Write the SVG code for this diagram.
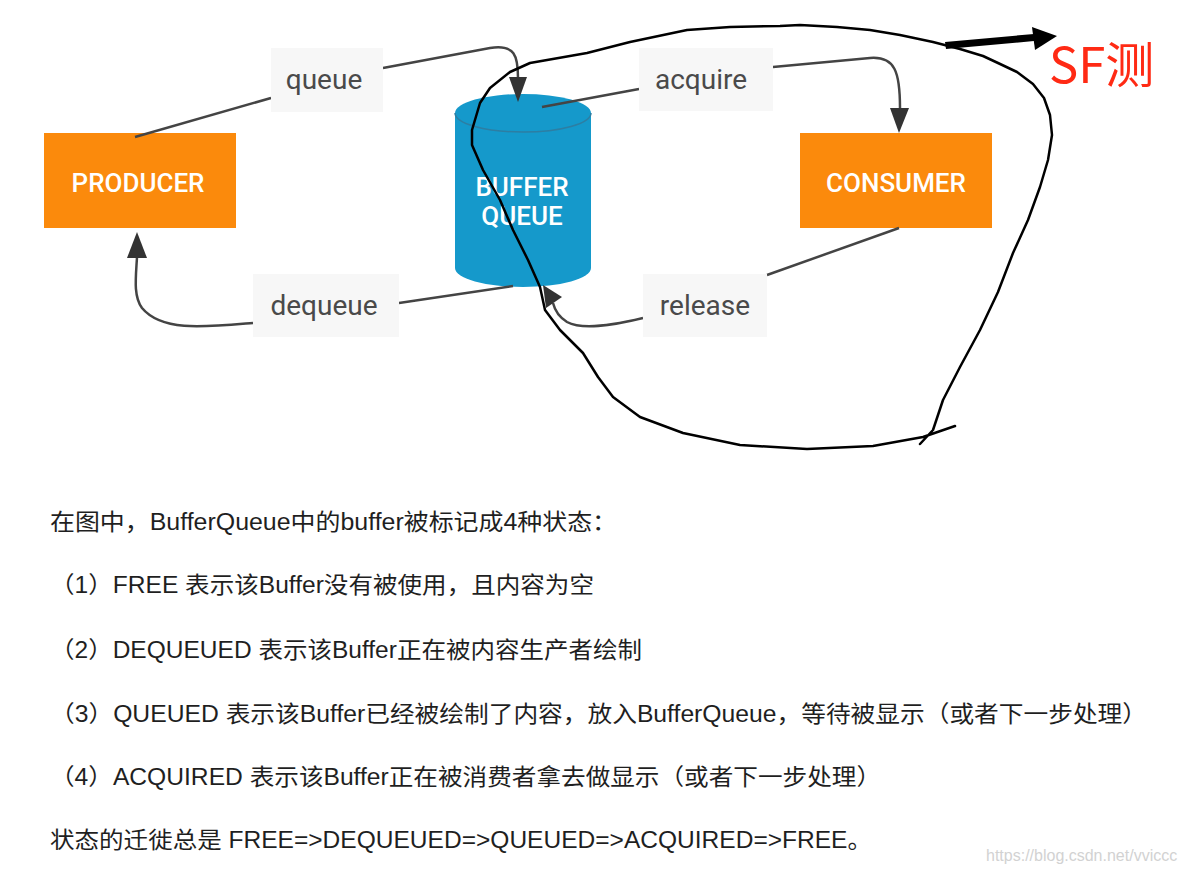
<svg xmlns="http://www.w3.org/2000/svg" width="1184" height="872" viewBox="0 0 1184 872">
<style>
.box{fill:#fb8a0c}
.boxt{font-family:Roboto,"Liberation Sans",sans-serif;font-weight:500;font-size:26px;fill:#fff;text-anchor:middle}
.lbl{fill:#f7f7f7}
.lblt{font-family:Roboto,"Liberation Sans",sans-serif;font-size:28px;fill:#4a4a4a;text-anchor:middle}
.con{fill:none;stroke:#444;stroke-width:2.5}
.head{fill:#333}
.txt{font-family:"Liberation Sans","Noto Sans CJK SC",sans-serif;font-size:23px;fill:#1f1f1f}
</style>
<rect width="1184" height="872" fill="#fff"/>
<g id="producer">
<rect class="box" x="44" y="133" width="192" height="95"/>
<text class="boxt" x="138" y="192">PRODUCER</text>
</g>
<g id="consumer">
<rect class="box" x="800" y="133" width="192" height="95"/>
<text class="boxt" x="896" y="192">CONSUMER</text>
</g>
<g id="bufferqueue">
<path d="M455,113 L455,268 A68,19 0 0 0 591,268 L591,113 A68,19 0 0 0 455,113 Z" fill="#1599cb"/>
<path d="M455,113 A68,19 0 0 0 591,113" fill="none" stroke="#2d7ea3" stroke-width="1.5"/>
<text class="boxt" x="522" y="196">BUFFER</text>
<text class="boxt" x="522" y="225">QUEUE</text>
</g>
<g id="connectors">
<path class="con" d="M135,137 L271,98"/>
<path class="con" d="M383,68 L490,48 C515,44 518,56 518,78"/>
<polygon class="head" points="509,77 527,77 518,102"/>
<path class="con" d="M542,107 L639,89"/>
<path class="con" d="M773,67 L870,58 C895,56 900,72 900,108"/>
<polygon class="head" points="890,108 909,108 899,133"/>
<path class="con" d="M899,228 L767,275"/>
<path class="con" d="M643,318 C610,326 582,330 567,322 C559,317 555,311 553,303"/>
<polygon class="head" points="543,285 562,297 546,308"/>
<path class="con" d="M513,286 L399,303"/>
<path class="con" d="M253,323 C205,327 162,332 142,308 C133,296 136,276 137,257"/>
<polygon class="head" points="127,258 147,258 137,232"/>
</g>
<g id="queue">
<rect class="lbl" x="271" y="48" width="112" height="64"/>
<text class="lblt" x="324" y="89">queue</text>
</g>
<g id="acquire">
<rect class="lbl" x="639" y="48" width="134" height="63"/>
<text class="lblt" x="701" y="89">acquire</text>
</g>
<g id="dequeue">
<rect class="lbl" x="253" y="274" width="146" height="63"/>
<text class="lblt" x="324" y="315">dequeue</text>
</g>
<g id="release">
<rect class="lbl" x="643" y="274" width="124" height="63"/>
<text class="lblt" x="705" y="315">release</text>
</g>
<g id="sf-annotation">
<polyline fill="none" stroke="#000" stroke-width="2.5" stroke-linejoin="round" stroke-linecap="round" points="920,444 933,430 943,400 960,367 980,330 998,292 1013,253 1028,220 1040,187 1048,160 1052,135 1050,115 1044,98 1033,84 1017,72 998,63 983,56 960,49 933,42 900,35 870,30 837,27 800,25 780,26 730,27 687,30 630,42 587,53 530,63 510,72 490,88 480,103 472,130 472,145 483,170 500,200 513,230 528,260 540,287 545,310 560,330 583,353 598,377 613,397 640,417 683,433 740,445 807,449 873,446 923,437 955,426"/>
<polygon points="945,42 1034,34 1034,41 946,49" fill="#000"/>
<polygon points="1032,27 1057,36 1035,50" fill="#000"/>
<text x="1049" y="83" font-family="'Noto Sans CJK SC','Noto Sans',sans-serif" font-size="49" fill="#ff2a14">SF测</text>
</g>
<g id="description">
<text class="txt" x="50" y="530" textLength="567" lengthAdjust="spacingAndGlyphs">在图中，BufferQueue中的buffer被标记成4种状态：</text>
<text class="txt" x="50" y="593" textLength="544" lengthAdjust="spacingAndGlyphs">（1）FREE 表示该Buffer没有被使用，且内容为空</text>
<text class="txt" x="50" y="658" textLength="592" lengthAdjust="spacingAndGlyphs">（2）DEQUEUED 表示该Buffer正在被内容生产者绘制</text>
<text class="txt" x="50" y="722" textLength="1097" lengthAdjust="spacingAndGlyphs">（3）QUEUED 表示该Buffer已经被绘制了内容，放入BufferQueue，等待被显示（或者下一步处理）</text>
<text class="txt" x="50" y="785" textLength="831" lengthAdjust="spacingAndGlyphs">（4）ACQUIRED 表示该Buffer正在被消费者拿去做显示（或者下一步处理）</text>
<text class="txt" x="50" y="848" textLength="822" lengthAdjust="spacingAndGlyphs">状态的迁徙总是 FREE=&gt;DEQUEUED=&gt;QUEUED=&gt;ACQUIRED=&gt;FREE。</text>
<text x="986" y="861" font-family="'Liberation Sans',sans-serif" font-size="16" fill="#d2d2d2">https://blog.csdn.net/vviccc</text>
</g>
</svg>
